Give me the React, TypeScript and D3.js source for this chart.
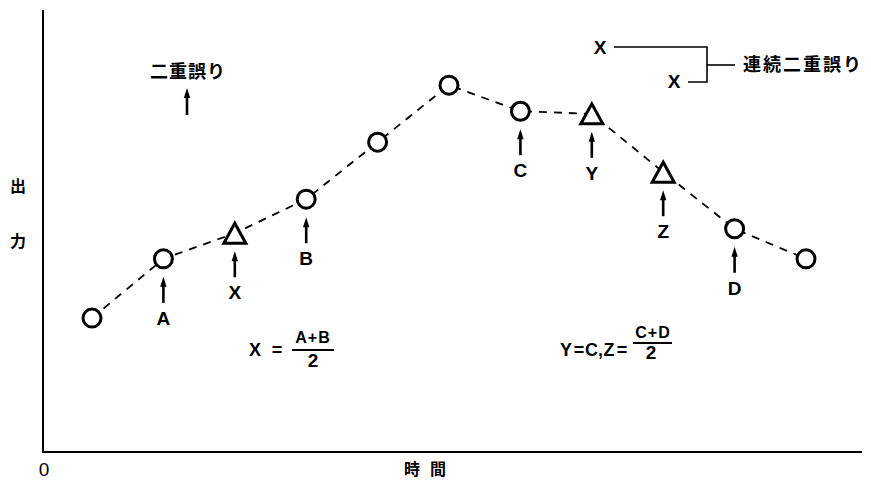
import React from "react";
import * as d3 from "d3";

const times = [1, 2, 3, 4, 5, 6, 7, 8, 9, 10, 11];
const outputs = [30.3, 43.7, 49.5, 57.2, 70.1, 83.0, 77.1, 76.5, 63.3, 50.5, 43.7];
const markers = ["circle", "circle", "triangle", "circle", "circle", "circle", "circle", "triangle", "triangle", "circle", "circle"];
const pointLabels = ["", "A", "X", "B", "", "", "C", "Y", "Z", "D", ""];

const W = 871;
const H = 484;
const axisX = 43;
const axisY = 452;

const LATIN = "'Liberation Sans', Arial, sans-serif";
const CJK = "'Noto Sans CJK JP', sans-serif";

function Arrow({ x, tipY, len }: { x: number; tipY: number; len: number }) {
  const head = 10;
  return (
    <g>
      <line x1={x} x2={x} y1={tipY + head - 1} y2={tipY + len} stroke="#000" strokeWidth={2.6} />
      <path d={`M${x},${tipY} L${x - 3.2},${tipY + head} L${x + 3.2},${tipY + head} Z`} fill="#000" />
    </g>
  );
}

function T({ x, y, s = 18, children, anchor = "middle", ls = 0 }: any) {
  return (
    <text x={x} y={y} fontFamily={LATIN} fontWeight={700} fontSize={s} textAnchor={anchor} letterSpacing={ls}>
      {children}
    </text>
  );
}

export default function App() {
  const x = d3.scaleLinear().domain([1, 11]).range([92, 806]);
  const y = d3.scaleLinear().domain([0, 100]).range([axisY, 10]);
  const line = d3
    .line<number>()
    .x((_, i) => x(times[i]))
    .y((d) => y(d));

  return (
    <svg width={W} height={H} style={{ position: "absolute", left: 0, top: 0 }}>
      <rect width={W} height={H} fill="#fff" />
      {/* axes */}
      <line x1={axisX} x2={axisX} y1={10} y2={axisY + 1} stroke="#000" strokeWidth={2} />
      <line x1={axisX} x2={862} y1={axisY} y2={axisY} stroke="#000" strokeWidth={2} />
      <text x={44} y={476} fontFamily={LATIN} fontSize={19} textAnchor="middle">0</text>
      <text x={412} y={475} fontFamily={CJK} fontWeight={700} fontSize={16} textAnchor="middle">時</text>
      <text x={438} y={475} fontFamily={CJK} fontWeight={700} fontSize={16} textAnchor="middle">間</text>
      <text x={18} y={192} fontFamily={CJK} fontWeight={700} fontSize={16} textAnchor="middle">出</text>
      <text x={18} y={247} fontFamily={CJK} fontWeight={700} fontSize={16} textAnchor="middle">力</text>

      {/* dashed line */}
      <path d={line(outputs) || ""} fill="none" stroke="#000" strokeWidth={1.8} strokeDasharray="8,7" />

      {/* markers */}
      {outputs.map((v, i) => {
        const cx = x(times[i]);
        const cy = y(v);
        return markers[i] === "circle" ? (
          <circle key={i} cx={cx} cy={cy} r={9} fill="#fff" stroke="#000" strokeWidth={3} />
        ) : (
          <path
            key={i}
            d={`M${cx},${cy - 10} L${cx - 11},${cy + 10} L${cx + 11},${cy + 10} Z`}
            fill="#fff"
            stroke="#000"
            strokeWidth={3}
          />
        );
      })}

      {/* arrows and labels */}
      {outputs.map((v, i) => {
        if (!pointLabels[i]) return null;
        const cx = x(times[i]);
        const cy = y(v);
        return (
          <g key={"l" + i}>
            <Arrow x={cx} tipY={cy + 18} len={26} />
            <T x={cx} y={cy + 66} s={19}>{pointLabels[i]}</T>
          </g>
        );
      })}

      {/* legend: 二重誤り */}
      <text x={188} y={78} fontFamily={CJK} fontWeight={700} fontSize={18} textAnchor="middle" letterSpacing={1}>二重誤り</text>
      <Arrow x={187} tipY={88} len={27} />

      {/* legend: 連続二重誤り */}
      <T x={600} y={54} s={19}>X</T>
      <T x={674} y={88} s={19}>X</T>
      <path d="M614,47 H707 V82 H688" fill="none" stroke="#000" strokeWidth={1.6} />
      <line x1={707} x2={735} y1={65} y2={65} stroke="#000" strokeWidth={1.6} />
      <text x={743} y={71} fontFamily={CJK} fontWeight={700} fontSize={18} letterSpacing={2}>連続二重誤り</text>

      {/* formula X */}
      <T x={255} y={356}>X</T>
      <T x={277} y={356}>=</T>
      <T x={313} y={343} s={16} ls={1}>A+B</T>
      <line x1={292} x2={334} y1={350} y2={350} stroke="#000" strokeWidth={2} />
      <T x={313} y={367} s={19}>2</T>

      {/* formula Y, Z */}
      <T x={566} y={356}>Y</T>
      <T x={579} y={356}>=</T>
      <T x={585} y={356} anchor="start">C,</T>
      <T x={609} y={356}>Z</T>
      <T x={622} y={356}>=</T>
      <T x={653} y={338} s={16} ls={1}>C+D</T>
      <line x1={633} x2={672} y1={343} y2={343} stroke="#000" strokeWidth={2} />
      <T x={651} y={359} s={19}>2</T>
    </svg>
  );
}
